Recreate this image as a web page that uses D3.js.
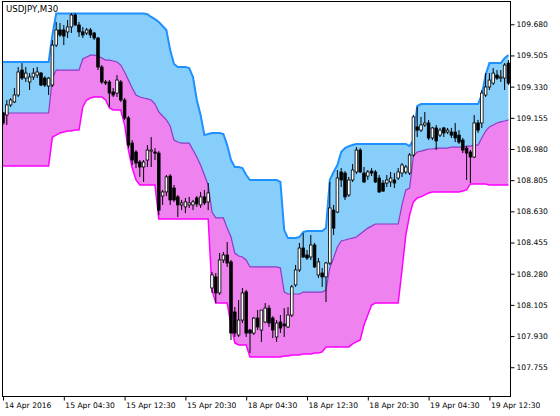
<!DOCTYPE html>
<html><head><meta charset="utf-8">
<script src="https://cdn.jsdelivr.net/npm/d3@7/dist/d3.min.js"></script>
<style>html,body{margin:0;padding:0;background:#fff;}svg{display:block;}</style>
</head><body>
<svg id="chart" width="560" height="416"></svg>
<script>
const title = "USDJPY,M30";
const xTickIndex = [0,16,32,48,64,80,96,112,128];
const xTickLabels = ["14 Apr 2016","15 Apr 04:30","15 Apr 12:30","15 Apr 20:30","18 Apr 04:30","18 Apr 12:30","18 Apr 20:30","19 Apr 04:30","19 Apr 12:30"];
const yTicks = [109.680,109.505,109.330,109.155,108.980,108.805,108.630,108.455,108.280,108.105,107.930,107.755];

const open = [
109.182,109.171,109.227,109.244,109.283,109.423,109.378,109.356,109.384,109.395,
109.406,109.378,109.333,109.339,109.563,109.648,109.648,109.637,109.665,109.732,
109.676,109.637,109.631,109.648,109.631,109.603,109.440,109.356,109.356,109.300,
109.294,109.356,109.255,109.154,109.013,108.963,108.907,108.879,108.918,108.968,
108.963,108.957,108.716,108.739,108.828,108.761,108.711,108.666,108.655,108.666,
108.666,108.705,108.666,108.711,108.683,108.200,108.262,108.172,108.357,108.385,
108.346,108.065,107.936,108.020,108.178,107.964,107.947,108.031,107.964,108.009,
108.087,108.031,107.925,108.009,107.998,107.981,108.048,108.217,108.301,108.424,
108.385,108.374,108.441,108.273,108.284,108.262,108.340,108.637,108.626,108.851,
108.845,108.722,108.806,108.851,108.974,108.845,108.828,108.856,108.851,108.817,
108.789,108.789,108.795,108.806,108.817,108.845,108.851,108.845,108.946,109.104,
109.086,109.115,109.126,109.042,109.098,109.058,109.098,109.075,109.075,109.075,
109.058,109.030,108.985,108.963,108.935,109.126,109.126,109.283,109.328,109.350,
109.395,109.378,109.378,109.462];
const high = [
109.188,109.255,109.266,109.322,109.440,109.462,109.440,109.406,109.434,109.440,
109.412,109.389,109.384,109.592,109.693,109.687,109.676,109.704,109.743,109.743,
109.693,109.665,109.659,109.659,109.637,109.609,109.451,109.367,109.367,109.322,
109.395,109.367,109.266,109.165,109.030,108.974,108.918,108.918,109.002,109.047,
108.985,108.968,108.750,108.834,108.839,108.778,108.722,108.694,108.705,108.711,
108.694,108.716,108.739,108.750,108.789,108.290,108.284,108.396,108.402,108.458,
108.357,108.093,108.132,108.200,108.189,107.970,108.037,108.076,108.076,108.115,
108.104,108.042,108.020,108.048,108.087,108.093,108.217,108.329,108.453,108.508,
108.413,108.497,108.453,108.368,108.312,108.346,108.795,108.666,108.862,108.873,
108.856,108.823,108.896,108.991,108.985,108.879,108.862,108.873,108.862,108.834,
108.806,108.834,108.851,108.845,108.873,108.901,108.890,108.957,109.171,109.216,
109.160,109.188,109.143,109.104,109.115,109.098,109.104,109.098,109.098,109.126,
109.086,109.042,108.996,108.974,109.171,109.143,109.311,109.406,109.406,109.434,
109.423,109.423,109.462,109.479];
const low = [
109.115,109.115,109.216,109.238,109.272,109.367,109.356,109.311,109.367,109.378,
109.333,109.328,109.283,109.328,109.552,109.609,109.563,109.603,109.631,109.670,
109.609,109.603,109.620,109.603,109.592,109.423,109.345,109.339,109.216,109.272,
109.272,109.244,109.143,108.985,108.890,108.873,108.823,108.795,108.879,108.879,
108.918,108.609,108.666,108.716,108.666,108.683,108.598,108.637,108.620,108.649,
108.637,108.655,108.649,108.666,108.637,108.172,108.115,108.161,108.340,108.318,
107.908,107.925,107.925,108.003,107.925,107.835,107.936,107.964,107.897,108.003,
107.981,107.919,107.897,107.947,107.925,107.975,108.037,108.206,108.290,108.368,
108.357,108.357,108.312,108.256,108.206,108.121,108.329,108.497,108.620,108.767,
108.694,108.711,108.795,108.839,108.845,108.789,108.806,108.828,108.789,108.733,
108.739,108.767,108.767,108.761,108.806,108.823,108.839,108.834,108.935,109.047,
109.075,109.104,109.030,109.030,108.974,109.047,109.047,109.064,109.042,109.019,
109.008,108.957,108.806,108.789,108.929,109.070,109.098,109.272,109.311,109.339,
109.367,109.356,109.311,109.339];
const close = [
109.126,109.227,109.255,109.283,109.412,109.378,109.406,109.384,109.406,109.412,
109.339,109.339,109.378,109.563,109.648,109.620,109.614,109.665,109.732,109.676,
109.637,109.620,109.648,109.620,109.603,109.440,109.356,109.350,109.294,109.283,
109.367,109.255,109.154,109.002,108.918,108.901,108.879,108.907,108.974,108.974,
108.957,108.637,108.739,108.823,108.694,108.694,108.666,108.677,108.683,108.677,
108.683,108.672,108.711,108.677,108.733,108.273,108.172,108.357,108.385,108.340,
107.947,107.947,108.020,108.172,107.947,107.947,108.031,107.981,108.076,108.087,
108.003,107.964,108.003,107.975,107.987,108.048,108.206,108.301,108.424,108.374,
108.368,108.441,108.318,108.346,108.262,108.340,108.649,108.536,108.817,108.806,
108.711,108.806,108.862,108.974,108.851,108.795,108.851,108.845,108.795,108.739,
108.744,108.806,108.817,108.789,108.851,108.890,108.879,108.946,109.160,109.086,
109.115,109.126,109.042,109.098,109.025,109.086,109.070,109.086,109.058,109.042,
109.019,108.974,108.957,108.935,109.126,109.086,109.294,109.328,109.367,109.406,
109.378,109.384,109.451,109.350];
const upper = [
109.468,109.468,109.468,109.468,109.468,109.468,109.468,109.468,109.468,109.468,
109.468,109.468,109.468,109.620,109.741,109.741,109.741,109.741,109.741,109.741,
109.741,109.741,109.741,109.741,109.741,109.741,109.741,109.741,109.741,109.741,
109.741,109.741,109.741,109.741,109.741,109.741,109.741,109.741,109.737,109.721,
109.709,109.693,109.670,109.648,109.535,109.457,109.440,109.440,109.440,109.434,
109.384,109.255,109.171,109.058,109.064,109.070,109.070,109.070,109.064,109.002,
108.918,108.879,108.879,108.873,108.834,108.806,108.806,108.806,108.806,108.806,
108.806,108.806,108.806,108.795,108.525,108.480,108.480,108.480,108.486,108.514,
108.520,108.520,108.520,108.520,108.520,108.536,108.806,108.851,108.890,108.963,
108.985,108.996,109.002,109.008,109.008,109.008,109.008,109.008,109.008,109.008,
109.008,109.008,109.008,109.008,109.008,109.008,109.008,108.996,109.030,109.221,
109.232,109.232,109.232,109.232,109.232,109.232,109.232,109.232,109.232,109.232,
109.232,109.232,109.232,109.232,109.232,109.232,109.283,109.395,109.462,109.462,
109.462,109.462,109.490,109.507];
const middle = [
109.182,109.182,109.182,109.182,109.182,109.182,109.182,109.182,109.182,109.182,
109.182,109.182,109.182,109.378,109.423,109.423,109.423,109.423,109.423,109.423,
109.423,109.485,109.496,109.507,109.507,109.502,109.491,109.479,109.479,109.474,
109.468,109.451,109.412,109.367,109.322,109.283,109.272,109.266,109.261,109.255,
109.232,109.188,109.165,109.143,109.109,109.030,109.019,109.013,109.013,109.013,
108.974,108.935,108.890,108.834,108.778,108.626,108.593,108.593,108.593,108.536,
108.486,108.396,108.379,108.374,108.357,108.318,108.318,108.318,108.318,108.318,
108.318,108.318,108.318,108.312,108.177,108.166,108.166,108.166,108.166,108.177,
108.177,108.177,108.177,108.177,108.177,108.189,108.312,108.368,108.430,108.464,
108.469,108.475,108.480,108.486,108.503,108.520,108.536,108.547,108.559,108.559,
108.559,108.559,108.559,108.559,108.559,108.666,108.750,108.761,108.941,108.963,
108.968,108.974,108.980,108.980,108.985,108.985,108.985,108.985,108.991,108.991,
108.991,108.991,108.996,108.996,109.002,109.002,109.042,109.081,109.104,109.115,
109.126,109.132,109.137,109.143];
const lower = [
108.884,108.884,108.884,108.884,108.884,108.884,108.884,108.884,108.884,108.884,
108.884,108.884,108.884,109.047,109.058,109.070,109.075,109.081,109.081,109.086,
109.086,109.216,109.255,109.266,109.272,109.272,109.272,109.255,109.210,109.199,
109.199,109.199,109.115,108.974,108.873,108.806,108.778,108.778,108.778,108.778,
108.778,108.587,108.587,108.587,108.587,108.587,108.587,108.587,108.587,108.587,
108.587,108.587,108.587,108.587,108.587,108.189,108.115,108.115,108.115,108.115,
107.992,107.891,107.880,107.880,107.880,107.813,107.813,107.813,107.813,107.813,
107.813,107.813,107.813,107.813,107.818,107.818,107.824,107.824,107.824,107.830,
107.830,107.830,107.835,107.835,107.841,107.869,107.869,107.869,107.869,107.869,
107.869,107.869,107.886,107.897,107.908,107.992,108.048,108.104,108.115,108.115,
108.115,108.115,108.115,108.115,108.115,108.301,108.497,108.609,108.683,108.705,
108.711,108.722,108.733,108.739,108.739,108.739,108.739,108.739,108.739,108.739,
108.739,108.744,108.750,108.784,108.784,108.784,108.784,108.784,108.778,108.778,
108.778,108.778,108.778,108.778];

const bars = open.map((o,i)=>({i, o, h:high[i], l:low[i], c:close[i], up:upper[i], mid:middle[i], lo:lower[i]}));

const svg = d3.select("#chart");
const L = 2.5, T = 1.5, R = 510.5, B = 396.5;
const x = d3.scaleLinear().domain([0, bars.length-1]).range([3, 508.4]);
const y = d3.scaleLinear().domain([107.588, 109.805]).range([397, 2]);

svg.append("rect").attr("width",560).attr("height",416).attr("fill","#fff");
svg.append("defs").append("clipPath").attr("id","clip")
  .append("rect").attr("x",L).attr("y",T).attr("width",R-L).attr("height",B-T);
const g = svg.append("g").attr("clip-path","url(#clip)");

const areaUp = d3.area().x(d=>x(d.i)).y0(d=>y(d.mid)).y1(d=>y(d.up));
const areaLo = d3.area().x(d=>x(d.i)).y0(d=>y(d.lo)).y1(d=>y(d.mid));
g.append("path").datum(bars).attr("d",areaUp).attr("fill","#87CEFA");
g.append("path").datum(bars).attr("d",areaLo).attr("fill","#EE82EE");

const line = key => d3.line().x(d=>x(d.i)).y(d=>y(d[key]));
g.append("path").datum(bars).attr("d",line("up")).attr("fill","none").attr("stroke","#1E90FF").attr("stroke-width",2);
g.append("path").datum(bars).attr("d",line("mid")).attr("fill","none").attr("stroke","#8A3CC8").attr("stroke-width",1.2);
g.append("path").datum(bars).attr("d",line("lo")).attr("fill","none").attr("stroke","#FF00FF").attr("stroke-width",1.5);

const cg = g.append("g");
cg.selectAll("line.wick").data(bars).join("line")
  .attr("x1",d=>x(d.i)).attr("x2",d=>x(d.i))
  .attr("y1",d=>y(d.h)).attr("y2",d=>y(d.l))
  .attr("stroke","#000").attr("stroke-width",1);
const bw = 2.6;
cg.selectAll("rect.body").data(bars).join("rect")
  .attr("x",d=>x(d.i)-bw/2)
  .attr("y",d=>y(Math.max(d.o,d.c)))
  .attr("width",bw)
  .attr("height",d=>Math.max(1,Math.abs(y(d.o)-y(d.c))))
  .attr("fill",d=>d.c>=d.o?"#fff":"#000")
  .attr("stroke","#000").attr("stroke-width",0.8);

// frame
svg.append("rect").attr("x",L).attr("y",T).attr("width",R-L).attr("height",B-T)
  .attr("fill","none").attr("stroke","#000").attr("stroke-width",1);

const font = "DejaVu Sans";
const yAxis = svg.append("g").attr("transform",`translate(${R},0)`)
  .call(d3.axisRight(y).tickValues(yTicks).tickSize(4).tickPadding(2).tickFormat(d3.format(".3f")));
yAxis.select(".domain").remove();
yAxis.selectAll("text").attr("font-family",font).attr("font-size","7.6px").attr("fill","#000");
yAxis.selectAll("line").attr("stroke","#000");

const xAxis = svg.append("g").attr("transform",`translate(0,${B})`)
  .call(d3.axisBottom(x).tickValues(xTickIndex).tickSize(4).tickFormat((d,i)=>xTickLabels[i]));
xAxis.select(".domain").remove();
xAxis.selectAll("text").attr("font-family",font).attr("font-size","7.6px").attr("fill","#000")
  .attr("text-anchor","start").attr("dx","1").attr("dy","0.55em");
xAxis.selectAll("line").attr("stroke","#000");

svg.append("text").attr("x",6).attr("y",12).text(title)
  .attr("font-family",font).attr("font-size","8.6px").attr("fill","#000");
</script>
</body></html>
